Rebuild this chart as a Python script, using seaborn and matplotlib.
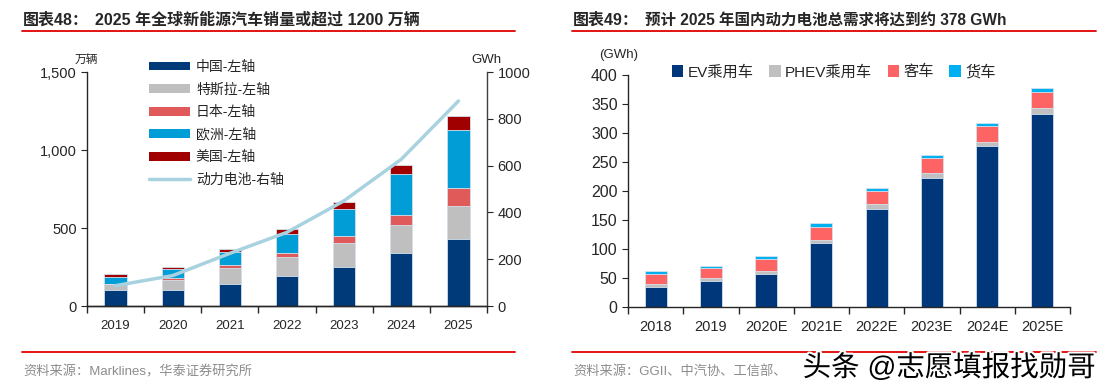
import numpy as np
import matplotlib
matplotlib.use("Agg")
import matplotlib.pyplot as plt
import matplotlib.patheffects as pe
import seaborn as sns
from matplotlib.lines import Line2D
from matplotlib.patches import Patch
from matplotlib.ticker import FuncFormatter

# left chart: global NEV sales (万辆) + power battery (GWh)
years = ['2019', '2020', '2021', '2022', '2023', '2024', '2025']
china = [102, 105, 141, 190, 252, 340, 429]
tesla = [37, 62, 103, 124, 150, 177, 210]
japan = [5, 10, 17, 26, 45, 68, 115]
europe = [43, 58, 83, 124, 177, 259, 374]
usa = [15, 17, 23, 32, 45, 62, 88]
battery_gwh = [87, 130, 225, 315, 450, 627, 876]
left_labels = ['中国-左轴', '特斯拉-左轴', '日本-左轴', '欧洲-左轴', '美国-左轴']
line_label = '动力电池-右轴'

# right chart: China power battery demand (GWh)
cn_years = ['2018', '2019', '2020E', '2021E', '2022E', '2023E', '2024E', '2025E']
ev_car = [35, 45, 57, 110, 169, 223, 277, 333]
phev_car = [5, 5, 5.5, 6, 9, 9, 8, 10]
bus = [18, 17, 20, 23, 22, 25, 27, 27]
truck = [5, 3.5, 5.5, 6, 6, 5, 6, 8]
right_labels = ['EV乘用车', 'PHEV乘用车', '客车', '货车']

left_colors = ['#003a78', '#bfbfbf', '#e05a5a', '#009dd6', '#a00000']
right_colors = ['#00377a', '#c0c0c0', '#ff6464', '#00b0f0']
line_color = '#a8d2e0'

sns.set_style("ticks")
plt.rcParams['font.family'] = ['Liberation Sans', 'Noto Sans CJK SC', 'DejaVu Sans']
plt.rcParams['axes.linewidth'] = 1.0

W, H = 1101, 392
fig = plt.figure(figsize=(W / 100, H / 100), dpi=100)


def fx(x):
    return x / W


def fy(y):
    return 1 - y / H


def stacked(ax, cats, layers, colors, width):
    # draw cumulative totals from the top layer down so the segments stack
    cum = np.cumsum(np.array(layers, dtype=float), axis=0)
    for i in range(len(layers) - 1, -1, -1):
        sns.barplot(x=cats, y=cum[i], color=colors[i], width=width, saturation=1,
                    errorbar=None, edgecolor='#d6e2ee', linewidth=0.6, ax=ax)


# ---------- left panel ----------
ax = fig.add_axes([fx(87), fy(306), fx(487) - fx(87), fy(72) - fy(306)])
stacked(ax, years, [china, tesla, japan, europe, usa], left_colors, 0.39)
ax.set_ylim(0, 1500)
ax.set_yticks([0, 500, 1000, 1500])
ax.yaxis.set_major_formatter(FuncFormatter(lambda v, p: f'{v:,.0f}'))
ax.set_xticks(range(len(years)))
ax.set_xticklabels(years)
ax.set_xticks(np.arange(-0.5, len(years), 1), minor=True)
ax.tick_params(axis='x', which='major', length=0, labelsize=9.5, pad=10)
ax.tick_params(axis='x', which='minor', length=5, width=1)
ax.tick_params(axis='y', length=4, labelsize=10.5)
ax.set_xlabel('')
ax.set_ylabel('')
sns.despine(ax=ax, top=True, right=True)

ax2 = ax.twinx()
sns.lineplot(x=np.arange(len(years)), y=battery_gwh, color=line_color, linewidth=2.5, ax=ax2)
ax2.set_ylim(0, 1000)
ax2.set_yticks([0, 200, 400, 600, 800, 1000])
ax2.tick_params(axis='y', length=4, labelsize=10.5)
ax2.set_xlim(-0.5, len(years) - 0.5)
ax.set_xlim(-0.5, len(years) - 0.5)
for s in ['top', 'left']:
    ax2.spines[s].set_visible(False)
ax2.spines['right'].set_color('#404040')
ax2.set_ylabel('')

handles = [Patch(facecolor=c, edgecolor='none') for c in left_colors]
handles.append(Line2D([0], [0], color=line_color, linewidth=2.5))
ax.legend(handles, left_labels + [line_label], loc='upper left', bbox_to_anchor=(0.123, 1.105),
          frameon=False, fontsize=10, handlelength=3.0, handleheight=0.6,
          handletextpad=0.4, labelspacing=0.62)

fig.text(fx(86), fy(60), '万辆', ha='center', va='center', fontsize=8.5)
fig.text(fx(486), fy(60), 'GWh', ha='center', va='center', fontsize=9.5)

# ---------- right panel ----------
bx = fig.add_axes([fx(628), fy(307.3), fx(1070) - fx(628), fy(75) - fy(307.3)])
stacked(bx, cn_years, [ev_car, phev_car, bus, truck], right_colors, 0.4)
bx.set_ylim(0, 400)
bx.set_yticks(range(0, 401, 50))
bx.set_xticks(range(len(cn_years)))
bx.set_xticklabels(cn_years)
bx.set_xticks(np.arange(-0.5, len(cn_years), 1), minor=True)
bx.set_xlim(-0.5, len(cn_years) - 0.5)
bx.tick_params(axis='x', which='major', length=0, labelsize=10.5, pad=9)
bx.tick_params(axis='x', which='minor', length=5, width=1)
bx.tick_params(axis='y', length=4, labelsize=11.5)
bx.set_xlabel('')
bx.set_ylabel('')
sns.despine(ax=bx, top=True, right=True)

rh = [Patch(facecolor=c, edgecolor='none') for c in right_colors]
bx.legend(rh, right_labels, loc='center left', bbox_to_anchor=(0.068, 1.013), ncol=4,
          frameon=False, fontsize=11, handlelength=0.75, handleheight=0.75,
          handletextpad=0.3, columnspacing=1.0)
fig.text(fx(619), fy(55), '(GWh)', ha='center', va='center', fontsize=9.5)

# ---------- titles, rules and sources ----------
title_kw = dict(fontsize=11.5, fontweight='bold', va='center', ha='left')
fig.text(fx(23), fy(20), '图表48：', **title_kw)
fig.text(fx(95), fy(20), '2025 年全球新能源汽车销量或超过 1200 万辆', **title_kw)
fig.text(fx(573), fy(20), '图表49：', **title_kw)
fig.text(fx(645), fy(20), '预计 2025 年国内动力电池总需求将达到约 378 GWh', fontsize=11.2,
         fontweight='bold', va='center', ha='left')

for x0, x1 in [(22, 515), (572, 1096)]:
    fig.add_artist(Line2D([fx(x0), fx(x1)], [fy(31), fy(31)], color='#e00000', linewidth=1.3,
                          transform=fig.transFigure))
    fig.add_artist(Line2D([fx(x0), fx(x1)], [fy(352), fy(352)], color='#e00000', linewidth=1.3,
                          transform=fig.transFigure))

fig.text(fx(23), fy(372), '资料来源：Marklines，华泰证券研究所', fontsize=9.5, color='#8c8c8c',
         va='center', ha='left')
# the rest of this source line is hidden under the watermark in the reference
fig.text(fx(573), fy(372), '资料来源：GGII、中汽协、工信部、', fontsize=9.5,
         color='#8c8c8c', va='center', ha='left')

wm = fig.text(fx(1096), fy(368), '头条 @志愿填报找勋哥', fontsize=20.5, color='black',
              va='center', ha='right')
wm.set_path_effects([pe.withStroke(linewidth=3, foreground='white')])

fig.savefig('out.png', dpi=100)
